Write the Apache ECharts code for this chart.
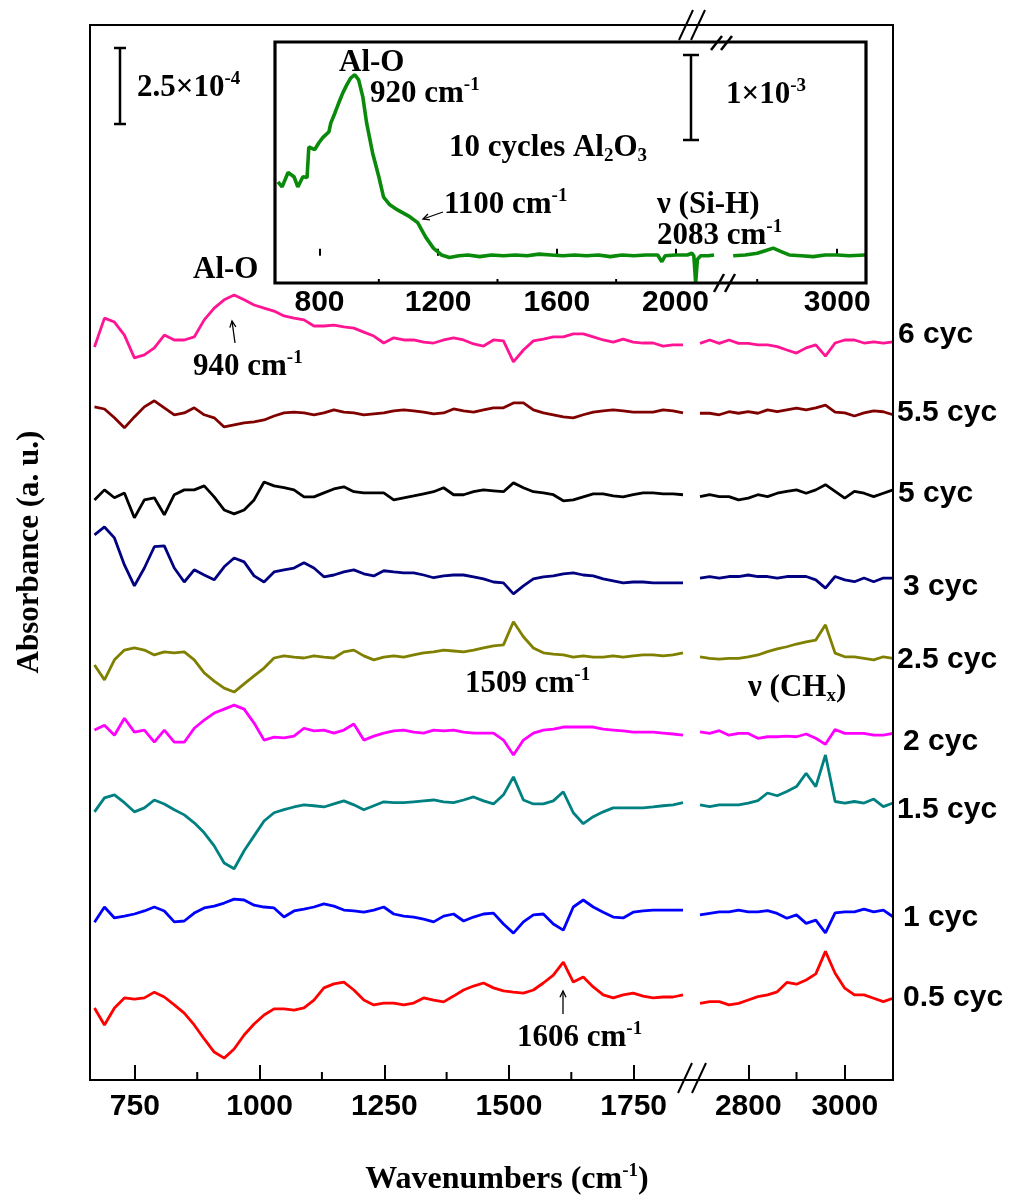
<!DOCTYPE html>
<html>
<head>
<meta charset="utf-8">
<script src="https://cdn.jsdelivr.net/npm/echarts@6/dist/echarts.min.js"></script>
<style>
  html, body { margin: 0; padding: 0; background: #fff; }
  #chart { width: 1015px; height: 1197px; }
</style>
</head>
<body>
<div id="chart"></div>
<script>
// wavenumbers (cm-1) of the two windows of the main plot
const wnLow = [669, 689, 709, 729, 749, 769, 789, 809, 829, 849, 869, 889, 909, 929, 949, 969, 989, 1009, 1029, 1049,
  1069, 1089, 1109, 1129, 1149, 1169, 1189, 1209, 1229, 1249, 1269, 1289, 1309, 1329, 1349, 1369, 1389, 1409, 1429, 1449,
  1469, 1489, 1509, 1529, 1549, 1569, 1589, 1609, 1629, 1649, 1669, 1689, 1709, 1729, 1749, 1769, 1789, 1809, 1829, 1849];
const wnHigh = [2700, 2720, 2740, 2760, 2780, 2800, 2820, 2840, 2860, 2880, 2900, 2920, 2940, 2960, 2980, 3000, 3020, 3040, 3060, 3080, 3100];

// absorbance change, units of 1e-5 a.u., relative to each trace's own baseline
const low05 = [-3.6, -9.2, -3.6, -0.3, -0.7, -0.3, 1.6, 0, -2.6, -5.3, -9.2, -13.8, -18.1, -20.1, -17.1, -12.5, -8.9, -5.9, -3.9, -3.9,
  -4.3, -3.6, -1, 3, 4.3, 4.9, 2.3, -1, -2.6, -2, -2, -2.6, -2, -0.3, -1, -1.6, 0.3, 2.3, 3.6, 4.6,
  3, 2, 1.6, 1.3, 2.3, 4.6, 7.2, 11.5, 4.9, 6.6, 3.3, 0.7, -0.3, 0.7, 1.3, 0.3, -0.3, 0, 0, 0.7];
const high05 = [-2.1, -1.5, -1.5, -2.6, -2.1, -1, 0.1, 0.7, 1.7, 4.8, 4.2, 5.6, 7.6, 15, 7.8, 2.9, 0.7, 0.7, -0.4, -1.5, -0.4];

const low1 = [-4, 1, -2.6, -2, -1.3, -0.3, 1, -0.3, -3.9, -3.6, -1, 0.7, 1.3, 2.3, 3.6, 3.3, 1.6, 1, 0.7, -2.3,
  -0.3, 0.3, 1, 2, 1.3, 0, -0.3, -0.7, 0, 1, -1.3, -2, -2.3, -3, -3.9, -2, -1.3, -3.6, -2.3, -1.3,
  -1, -4.6, -7.6, -3.9, -1.6, -1.3, -4.6, -6.6, 1, 3.3, 1, -0.7, -2.3, -2.6, -0.7, -0.3, 0, 0, 0, 0];
const high1 = [-1.6, -1.1, -0.6, -0.6, 0, -0.6, -0.6, -0.2, -1.1, -2.7, -1.6, -4.4, -3.3, -7.5, -0.9, -0.6, -0.6, 0.3, -0.6, 0, -2.2];

const low15 = [-2.3, 2.3, 3.3, 0.7, -2.3, -1, 1.6, 0.3, -1.6, -3.3, -5.9, -9.2, -13.5, -19.1, -21, -15.1, -10.2, -5.3, -2.6, -1.6,
  -0.7, 0, -0.3, -0.7, 0.3, 1.3, 0, -1.6, -0.3, 1, 0.7, 0.7, 1, 1.3, 1.6, 1, 0.7, 1.6, 2.6, 1.3,
  0.3, 3.3, 9.2, 1.6, 0.3, 0.3, 1.3, 4.3, -2.6, -6.2, -3.9, -2.3, -1, -1, -1, -1, -0.7, -0.3, 0, 0.7];
const high15 = [0, -0.6, 0, 0, 0, 0.6, 1.4, 3.9, 3, 4.4, 6, 10.4, 6, 16.4, 1.1, 0.6, 1.1, 0.6, 1.9, -0.6, 0.6];

const low2 = [1, 2.6, -0.7, 4.9, 0.3, 1, -3, 1, -3, -3, 1.6, 4.3, 6.6, 7.9, 9.2, 7.9, 3.3, -2.3, -1.3, -1.6,
  -1, 1.6, 0.7, 1, 0, 1, 3, -2.3, -1, 0, 0.7, 1, 0.3, 0, 1, 0.7, 1, 0.3, 0, 0,
  0, -2.3, -7.2, -2.3, 0, 1, 1.3, 2, 2, 2, 2, 1.3, 1, 0.7, 0.3, 0.3, 0.3, 0, -0.3, -0.7];
const high2 = [0.4, -0.1, 0.8, -0.7, -0.1, -0.1, -1.7, -1.2, -1.2, -1, -1.2, -0.3, -1.7, -3.7, 1.2, -0.1, -0.1, -0.1, -0.7, -0.7, -0.1];

const low25 = [-3.3, -8.2, -1.6, 1.6, 2.3, 1.6, 0, 1, 0.7, 1, -1.6, -5.9, -8.6, -10.9, -12.2, -9.5, -6.9, -4.3, -1, -0.3,
  -0.7, -1, -0.3, -0.7, -1, 1, 1.6, -0.3, -1.6, -0.7, -0.3, -0.7, 0, 0.7, 1, 1.6, 1.3, 1, 1.6, 2.3,
  3, 3.3, 10.9, 6, 2.3, 0.7, 0.3, 0, -0.7, -0.3, -0.7, -0.7, -0.3, -0.7, -0.3, 0, 0, -0.3, 0, 0.7];
const high25 = [-0.6, -1.1, -1.4, -1.1, -1.1, -0.6, 0, 1.1, 2, 2.7, 3.6, 4.3, 4.9, 9.9, 0.6, -0.6, -0.6, -1.1, -1.6, -0.6, -1.1];

const low3 = [14.8, 17.4, 13.8, 4.9, -2, 3.9, 10.9, 11.2, 3.9, -0.7, 3.3, 1.6, 0, 4.3, 7.2, 5.9, 1.3, -0.7, 2.6, 3.3,
  3.9, 5.6, 3.9, 1, 1.6, 2.6, 3.3, 2, 1.3, 3, 2.6, 2.3, 2.3, 1.6, 0.7, 1.3, 1.6, 1.6, 1, 0.3,
  -0.7, -1, -4.6, -2, 0.3, 1, 1.3, 2, 2.3, 1.6, 1.3, 0.3, -0.3, -1, -0.7, -0.7, -1, -1, -1, -1];
const high3 = [0.6, 1.1, 0.6, 1.1, 1.1, 1.6, 1.1, 1.1, 0.6, 1.1, 1.1, 1.1, 0, -2.7, 1.1, 0, -0.6, 0.6, -0.6, 0.6, 0.6];

const low5 = [-2, 1.3, -1.3, 0.3, -7.9, -2, -1.3, -6.9, -0.3, 1.3, 1.3, 2.6, -1, -5.3, -6.6, -5.3, -2, 3.9, 2.6, 2,
  1.3, -1, -1, 0.3, 1.6, 2.3, 0.7, 0.3, 0.3, 0.3, -2, -1.3, -0.7, 0, 0.7, 2, -0.3, -0.3, 0.7, 1.3,
  1, 0.7, 3.6, 2, 0.7, 0.3, -0.3, -2.3, -2, -1, 0, 0, -0.7, -1, -0.3, 0.3, 0.3, 0, 0, -0.3];
const high5 = [-0.9, -0.3, -0.9, -0.9, -2, -1.4, -0.3, -0.9, 0.2, 0.8, 1.3, 0.2, 1.3, 3, 0.8, -1.4, 0.8, 0.2, -0.9, 0.2, 1.3];

const low55 = [1, 0.3, -2.6, -5.9, -2.3, 1, 3, 0.7, -1.6, -1, 0.7, -1.6, -2.6, -5.6, -4.9, -4.3, -3.9, -3.3, -2, -1,
  -0.7, -1, -1.6, -1, 0, -0.7, -1, -1.6, -1.3, -1, -0.3, 0, -0.3, -0.7, -1.3, -1, 0.3, -0.3, -0.7, 0,
  0.7, 0.7, 2.3, 2.3, 0, -1, -1.6, -2.3, -2.6, -1.6, -0.7, -0.3, 0, -0.3, -0.7, -0.7, -0.7, 0, -0.3, -1];
const high55 = [-1.1, -1.1, -1.6, -0.6, -1.1, -0.6, -1.1, 0, -0.6, 0, 0.6, 0, 0.7, 1.6, -0.7, -1, -2, -1, -0.3, -0.6, -1.6];

const low6 = [-2.3, 7.2, 5.9, 1.6, -5.9, -4.9, -2.6, 1.6, 0, 0, 1, 6.6, 10.5, 13.2, 14.8, 13.2, 11.5, 10.5, 9.5, 7.9,
  7.2, 6.6, 4.6, 4.6, 4.9, 4.3, 3.9, 2.6, 1.3, -1, 0.7, 0, 0, -0.7, -1, 0, 0.7, 0, -1.3, -2,
  0, -0.3, -7.2, -3.3, -0.3, 0.3, 1, 1, 2, 2, 1, 0, -0.7, 0.3, -0.7, -1, -1, -2, -1.6, -1.6];
const high6 = [-1.1, 0, -1.1, 0, -1.1, -1.1, -1.6, -1.6, -2.2, -3.3, -4.3, -2.6, -1.6, -5.3, -1, 0, 0, -1, -0.6, -1, -0.6];

const cycles = ['0.5 cyc', '1 cyc', '1.5 cyc', '2 cyc', '2.5 cyc', '3 cyc', '5 cyc', '5.5 cyc', '6 cyc'];
const lows = [low05, low1, low15, low2, low25, low3, low5, low55, low6];
const highs = [high05, high1, high15, high2, high25, high3, high5, high55, high6];
// vertical stacking offset of each trace (1e-5 a.u.)
const offsets = [27.3, 55.9, 90.5, 114.1, 139.8, 164.5, 192.8, 220.4, 243.4];

// inset: 10 cycles Al2O3 (1e-5 a.u.)
const insetWnLow = [660, 674, 694, 714, 727, 744, 758, 764, 784, 798, 811, 832, 838, 852, 865, 879, 892, 905, 919, 932,
  946, 959, 979, 1000, 1016, 1037, 1063, 1104, 1131, 1158, 1184, 1211, 1238, 1270, 1300, 1340, 1380, 1420, 1460, 1500,
  1540, 1580, 1620, 1660, 1700, 1740, 1780, 1820, 1860, 1900, 1940, 1954, 1965, 2000, 2040, 2055, 2062, 2068, 2074, 2085,
  2110, 2130];
const insetAbsLow = [87, 81, 98, 93, 81, 93, 92, 128, 125, 133, 139, 146, 156, 168, 180, 192, 201, 209, 213, 207,
  187, 156, 121, 93, 69, 60, 54, 46, 39, 22, 9, 1, -2, 0, 1, -1, 1, 0, 1, 0,
  2, 1, 0, 1, 0, 1, -1, 1, 0, 1, 1, -7, 0, 1, 1, 3, 0, -32, -4, 0,
  0, 1];
const insetWnHigh = [2740, 2770, 2800, 2820, 2840, 2860, 2880, 2910, 2940, 2970, 3000, 3030, 3070];
const insetAbsHigh = [0, 1, 3, 6, 9, 5, 1, 0, -1, 1, 1, 0, 1];

const mainTicks = [750, 1000, 1250, 1500, 1750];
const mainMinor = [875, 1125, 1375, 1625];
const highTicks = [2800, 3000];
const highMinor = [2900];
const insetTicks = [800, 1200, 1600, 2000];
const insetMinor = [1000, 1400, 1800];
const insetHighTicks = [3000];
const insetHighMinor = [2800];
const scaleMain = 25;   // 2.5e-4
const scaleInset = 100; // 1e-3

const colors = ['#ff0000', '#0000ff', '#008080', '#ff00ff', '#808000', '#000080', '#000000', '#800000', '#ff1493'];
const labelPos = [[903, 998], [903, 918], [897, 810], [903, 742], [897, 660], [903, 587], [898, 494], [897, 413], [898, 335]];

const serif = "'Liberation Serif', 'Times New Roman', serif";
const sans = "'Liberation Sans', Arial, sans-serif";

const chart = echarts.init(document.getElementById('chart'));

function xAx(grid, min, max, ticks, len, margin) {
  return {
    type: 'value', gridIndex: grid, min: min, max: max,
    axisLine: { show: false },
    splitLine: { show: false },
    axisTick: { inside: true, length: len, customValues: ticks, lineStyle: { color: '#000', width: 2 } },
    axisLabel: { customValues: ticks, margin: margin, color: '#000', fontFamily: sans, fontWeight: 'bold', fontSize: 30,
      formatter: v => String(v) }
  };
}
function yAx(grid, min, max) {
  return { type: 'value', gridIndex: grid, min: min, max: max, show: false };
}

const series = [];
cycles.forEach((name, i) => {
  const common = {
    name: name, type: 'line', showSymbol: false, silent: true, animation: false,
    lineStyle: { color: colors[i], width: 2.8 }, itemStyle: { color: colors[i] }
  };
  series.push(Object.assign({}, common, {
    xAxisIndex: 0, yAxisIndex: 0,
    data: wnLow.map((w, j) => [w, offsets[i] + lows[i][j]])
  }));
  series.push(Object.assign({}, common, {
    xAxisIndex: 1, yAxisIndex: 1,
    data: wnHigh.map((w, j) => [w, offsets[i] + highs[i][j]])
  }));
});
const green = { type: 'line', showSymbol: false, silent: true, animation: false,
  lineStyle: { color: '#0a8a0a', width: 3.6 }, itemStyle: { color: '#0a8a0a' } };
series.push(Object.assign({}, green, { xAxisIndex: 2, yAxisIndex: 2, data: insetWnLow.map((w, j) => [w, insetAbsLow[j]]) }));
series.push(Object.assign({}, green, { xAxisIndex: 3, yAxisIndex: 3, data: insetWnHigh.map((w, j) => [w, insetAbsHigh[j]]) }));

chart.setOption({
  animation: false,
  grid: [
    { left: 90, top: 25, width: 601, height: 1055 },
    { left: 700, top: 25, width: 193, height: 1055 },
    { left: 275, top: 42, width: 442, height: 241 },
    { left: 728, top: 42, width: 138, height: 241 }
  ],
  xAxis: [
    xAx(0, 660, 1865, mainTicks, 15, 12),
    xAx(1, 2700, 3100, highTicks, 15, 12),
    xAx(2, 650, 2140, insetTicks, 7, 5),
    xAx(3, 2727, 3072, insetHighTicks, 7, 5)
  ],
  yAxis: [yAx(0, 0, 347), yAx(1, 0, 347), yAx(2, -32, 251.5), yAx(3, -32, 251.5)],
  series: series
});

// ---- annotations ----
const richSS = {
  sup: { fontFamily: serif, fontWeight: 'bold', fontSize: 19, verticalAlign: 'top', lineHeight: 19 },
  sub: { fontFamily: serif, fontWeight: 'bold', fontSize: 19, verticalAlign: 'bottom', lineHeight: 17 }
};
function note(text, x, y, extra) {
  return {
    type: 'text', x: x, y: y, silent: true, z: 10,
    style: Object.assign({
      text: text, fill: '#000', fontFamily: serif, fontWeight: 'bold', fontSize: 31,
      lineHeight: 36, align: 'left', verticalAlign: 'middle', rich: richSS
    }, extra || {})
  };
}
function seg(x1, y1, x2, y2, w) {
  return { type: 'line', silent: true, z: 10, shape: { x1: x1, y1: y1, x2: x2, y2: y2 },
    style: { stroke: '#000', lineWidth: w || 2 } };
}
function arrow(x1, y1, x2, y2) {
  const a = Math.atan2(y2 - y1, x2 - x1), h = 7;
  return [
    seg(x1, y1, x2, y2, 1.3),
    { type: 'polyline', silent: true, z: 10,
      shape: { points: [
        [x2 - h * Math.cos(a - 0.45), y2 - h * Math.sin(a - 0.45)], [x2, y2],
        [x2 - h * Math.cos(a + 0.45), y2 - h * Math.sin(a + 0.45)]] },
      style: { stroke: '#000', fill: 'none', lineWidth: 1.3 } }
  ];
}

const g = [];
// frames
g.push({ type: 'rect', silent: true, z: 5, shape: { x: 90, y: 25, width: 803, height: 1055 },
  style: { fill: 'none', stroke: '#000', lineWidth: 2 } });
g.push({ type: 'rect', silent: true, z: 5, shape: { x: 275, y: 42, width: 591, height: 241 },
  style: { fill: 'none', stroke: '#000', lineWidth: 3.2 } });
// axis break marks
g.push(seg(678, 1093, 692, 1063), seg(692, 1093, 706, 1063));
g.push(seg(679, 40, 693, 10), seg(691, 40, 705, 10));
g.push(seg(711, 50, 722, 36, 2.5), seg(721, 50, 732, 36, 2.5));
g.push(seg(714, 292, 724, 274, 2.5), seg(725, 292, 735, 274, 2.5));

// minor ticks placed through the axes
function minorTicks(axisIdx, gridIdx, values, yMin, len) {
  values.forEach(v => {
    const p = chart.convertToPixel({ xAxisIndex: axisIdx, yAxisIndex: gridIdx }, [v, yMin]);
    g.push(seg(p[0], p[1], p[0], p[1] - len, 2));
  });
}
minorTicks(0, 0, mainMinor, 0, 8);
minorTicks(1, 1, highMinor, 0, 8);
minorTicks(2, 2, insetMinor, -32, 4);
minorTicks(3, 3, insetHighMinor, -32, 4);

// scale bars
const mainLen = chart.convertToPixel({ yAxisIndex: 0 }, 0) - chart.convertToPixel({ yAxisIndex: 0 }, scaleMain);
g.push(seg(120, 48, 120, 48 + mainLen, 2.5), seg(114, 48, 126, 48, 2.5), seg(114, 48 + mainLen, 126, 48 + mainLen, 2.5));
const insetLen = chart.convertToPixel({ yAxisIndex: 2 }, 0) - chart.convertToPixel({ yAxisIndex: 2 }, scaleInset);
g.push(seg(691, 55, 691, 55 + insetLen, 2.5), seg(683, 55, 699, 55, 2.5), seg(683, 55 + insetLen, 699, 55 + insetLen, 2.5));

// text annotations
g.push(
  note('2.5×10{sup|-4}', 137, 88),
  note('Al-O', 193, 270),
  note('940 cm{sup|-1}', 193, 367),
  note('1509 cm{sup|-1}', 465, 684),
  note('ν (CH{sub|x})', 748, 688),
  note('1606 cm{sup|-1}', 517, 1038),
  note('Al-O', 339, 63),
  note('920 cm{sup|-1}', 370, 94),
  note('10 cycles Al{sub|2}O{sub|3}', 449, 148),
  note('1100 cm{sup|-1}', 444, 205),
  note('ν (Si-H)', 657, 205),
  note('2083 cm{sup|-1}', 657, 236),
  note('1×10{sup|-3}', 726, 95)
);
g.push(...arrow(235, 343, 232, 321));
g.push(...arrow(563, 1014, 563, 991));
g.push(...arrow(443, 212, 423, 219));

// trace names
cycles.forEach((name, i) => {
  g.push({ type: 'text', x: labelPos[i][0], y: labelPos[i][1], silent: true, z: 10,
    style: { text: name, fill: '#000', fontFamily: sans, fontWeight: 'bold', fontSize: 30,
      align: 'left', verticalAlign: 'middle' } });
});

// axis titles
g.push(note('Wavenumbers (cm{sup|-1})', 507, 1180, { align: 'center', fontSize: 32 }));
g.push({ type: 'text', x: 30, y: 552, rotation: Math.PI / 2, silent: true, z: 10,
  style: { text: 'Absorbance (a. u.)', fill: '#000', fontFamily: serif, fontWeight: 'bold', fontSize: 31,
    align: 'center', verticalAlign: 'middle' } });

chart.setOption({ graphic: g });
</script>
</body>
</html>
